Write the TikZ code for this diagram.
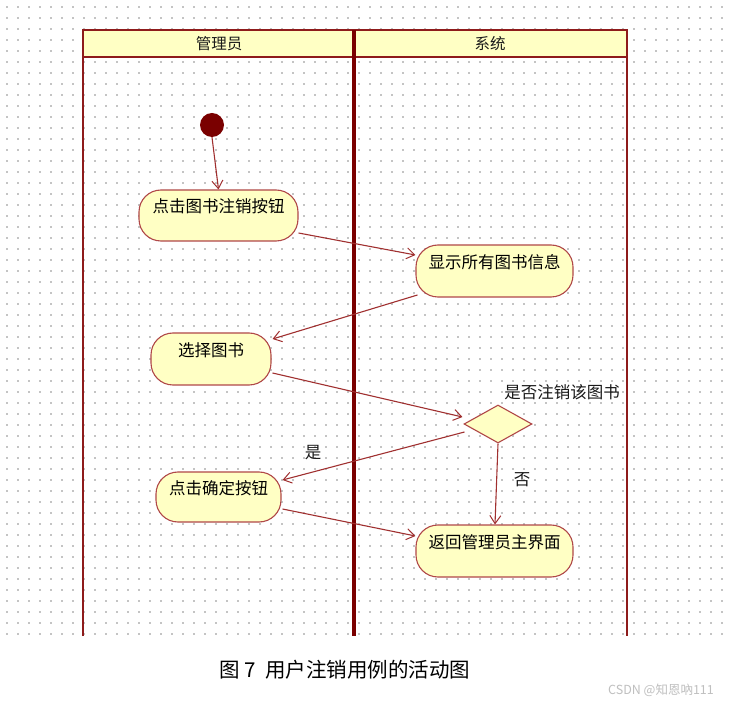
\documentclass[tikz,border=0pt]{standalone}
\usepackage{fontspec}
\setmainfont{Noto Sans CJK SC}
\usetikzlibrary{arrows.meta,shapes.geometric}
\definecolor{lane}{HTML}{8E1B1B}
\definecolor{laneDark}{HTML}{7A0000}
\definecolor{flow}{HTML}{A03030}
\definecolor{actFill}{HTML}{FFFFC4}
\definecolor{actLine}{HTML}{B04848}
\definecolor{dotc}{HTML}{C4C4C4}
\tikzset{
  x=1pt, y=-1pt,
  actbox/.style={draw=actLine, fill=actFill, line width=1.1pt, rounded corners=22pt,
    inner sep=0pt, text height=12pt, text depth=17pt, font=\fontsize{16.5}{16.5}\selectfont},
  flowarrow/.style={draw=flow, line width=1.1pt, -{Straight Barb[length=8pt,width=11pt,line width=1pt]}},
  lbl/.style={font=\fontsize{16.5}{16.5}\selectfont, text=black!90, inner sep=0pt},
}
\begin{document}
\begin{tikzpicture}
\useasboundingbox (0,0) rectangle (729,703);
\fill[white] (0,0) rectangle (729,703);
% dotted grid
\foreach \i in {0,...,65}{
  \foreach \j in {0,...,57}{
    \fill[dotc] ({7+11*\i-0.9},{7+11*\j-0.9}) rectangle ++(1.8,1.8);
  }
}
% swimlanes
\fill[actFill] (83,30) rectangle (627,57);
\draw[lane, line width=2.5pt] (83,636) -- (83,30) -- (627,30) -- (627,636);
\draw[lane, line width=2.5pt] (83,57) -- (627,57);
\draw[laneDark, line width=4pt] (354,30) -- (354,636);
\node[lbl, font=\fontsize{15.5}{15.5}\selectfont] (h1) at (219,44) {管理员};
\node[lbl, font=\fontsize{15.5}{15.5}\selectfont] (h2) at (490,44) {系统};
% nodes
\node[circle, fill=laneDark, minimum size=24pt, inner sep=0pt] (start) at (212,125) {};
\node[actbox, minimum width=159pt, minimum height=51pt] (a1) at (218.5,215.5) {点击图书注销按钮};
\node[actbox, minimum width=157pt, minimum height=52pt] (a2) at (494.5,271) {显示所有图书信息};
\node[actbox, minimum width=120pt, minimum height=52pt] (a3) at (211,359) {选择图书};
\node[draw=actLine, fill=actFill, line width=1.1pt, shape=diamond, minimum width=68pt, minimum height=38pt, inner sep=0pt] (d) at (498,424) {};
\node[actbox, minimum width=125pt, minimum height=50pt] (a4) at (218.5,497) {点击确定按钮};
\node[actbox, minimum width=157pt, minimum height=52pt] (a5) at (494.5,551) {返回管理员主界面};
% labels
\node[lbl] (qd) at (562,392) {是否注销该图书};
\node[lbl] (yes) at (313,453) {是};
\node[lbl] (no) at (522,480) {否};
% connectors
\draw[flowarrow] (start.south) -- (a1.north);
\draw[flowarrow] ([yshift=-17.5pt]a1.east) -- ([yshift=16pt]a2.west);
\draw[flowarrow] ([xshift=2pt,yshift=-24pt]a2.west) -- ([xshift=1pt,yshift=20pt]a3.east);
\draw[flowarrow] ([xshift=1pt,yshift=-14pt]a3.east) -- ([xshift=-1pt,yshift=7pt]d.west);
\draw[flowarrow] ([xshift=1pt,yshift=-8pt]d.west) -- ([xshift=1pt,yshift=17pt]a4.east);
\draw[flowarrow] ([xshift=1pt,yshift=-12pt]a4.east) -- ([yshift=15pt]a5.west);
\draw[flowarrow] (d.south) -- ([xshift=0.5pt]a5.north);
% caption and watermark
\node[font=\fontsize{20.5}{20.5}\selectfont, inner sep=0pt] (cap) at (345,670) {图 7\ \ 用户注销用例的活动图};
\node[font=\fontsize{12.5}{12.5}\selectfont, text=black!25, inner sep=0pt] (wm) at (661,690) {CSDN @知恩吶111};
\end{tikzpicture}
\end{document}
